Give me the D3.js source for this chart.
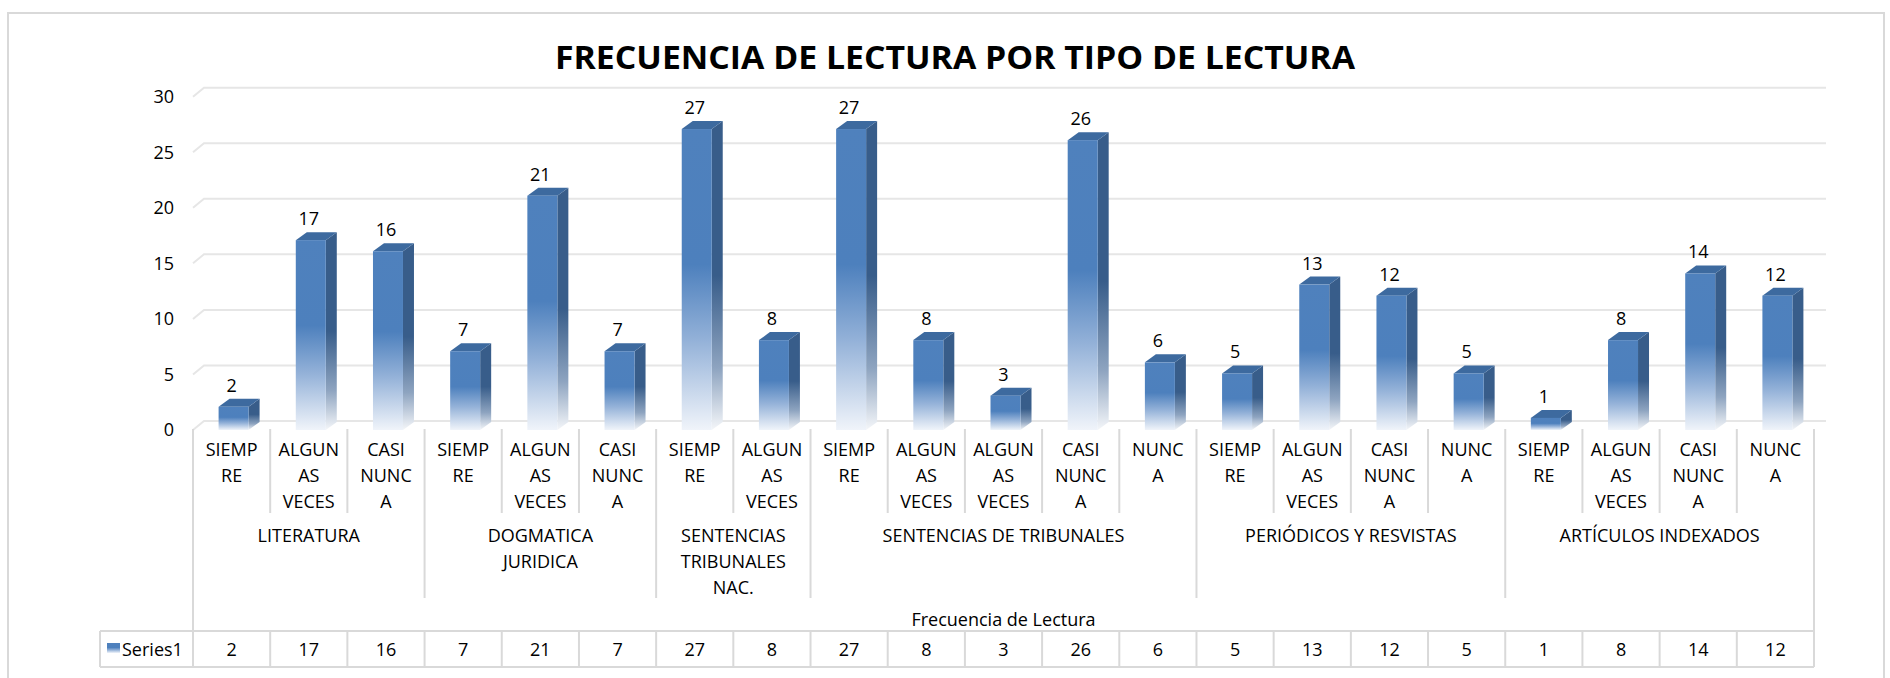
<!DOCTYPE html>
<html>
<head>
<meta charset="utf-8">
<script src="https://cdn.jsdelivr.net/npm/d3@7"></script>
<style>
  body { margin: 0; background: #fff; }
  text { font-family: "Open Sans", "Noto Sans", sans-serif; fill: #000; }
</style>
</head>
<body>
<div id="chart"></div>
<script>
const width = 1890,
  height = 678;

// data
const chartTitle = "FRECUENCIA DE LECTURA POR TIPO DE LECTURA";
const axisTitle = "Frecuencia de Lectura";
const seriesName = "Series1";
const categories = ["SIEMPRE", "ALGUNAS VECES", "CASI NUNCA",
  "SIEMPRE", "ALGUNAS VECES", "CASI NUNCA",
  "SIEMPRE", "ALGUNAS VECES",
  "SIEMPRE", "ALGUNAS VECES", "ALGUNAS VECES", "CASI NUNCA", "NUNCA",
  "SIEMPRE", "ALGUNAS VECES", "CASI NUNCA", "NUNCA",
  "SIEMPRE", "ALGUNAS VECES", "CASI NUNCA", "NUNCA"];
const values = [2, 17, 16, 7, 21, 7, 27, 8, 27, 8, 3, 26, 6, 5, 13, 12, 5, 1, 8, 14, 12];
const groupLabels = [["LITERATURA"], ["DOGMATICA", "JURIDICA"], ["SENTENCIAS", "TRIBUNALES", "NAC."],
  ["SENTENCIAS DE TRIBUNALES"], ["PERIÓDICOS Y RESVISTAS"], ["ARTÍCULOS INDEXADOS"]];
const groupSizes = [3, 3, 2, 5, 4, 4];
const yTicks = [0, 5, 10, 15, 20, 25, 30];

// layout
const plotLeft = 193, plotRight = 1814,
  depthX = 11, depthY = 9;
const tableTop = 631, tableBottom = 667, tableLeft = 100;
const gridCol = "#e6e6e6", lineCol = "#d9d9d9";

const svg = d3.select("#chart").append("svg")
  .attr("width", width)
  .attr("height", height);

const defs = svg.append("defs");
const front = defs.append("linearGradient").attr("id", "frontGrad")
  .attr("x1", 0).attr("y1", 0).attr("x2", 0).attr("y2", 1);
front.append("stop").attr("offset", 0).attr("stop-color", "#4f81bd");
front.append("stop").attr("offset", 0.45).attr("stop-color", "#4d80bd");
front.append("stop").attr("offset", 0.7).attr("stop-color", "#93b1d8");
front.append("stop").attr("offset", 1).attr("stop-color", "#f0f4fa");
const side = defs.append("linearGradient").attr("id", "sideGrad")
  .attr("x1", 0).attr("y1", 0).attr("x2", 0).attr("y2", 1);
side.append("stop").attr("offset", 0).attr("stop-color", "#385d8a");
side.append("stop").attr("offset", 0.5).attr("stop-color", "#385d8a");
side.append("stop").attr("offset", 0.8).attr("stop-color", "#8ea4c0");
side.append("stop").attr("offset", 1).attr("stop-color", "#f4f6f9");

// outer frame
svg.append("rect")
  .attr("x", 8).attr("y", 13)
  .attr("width", 1876).attr("height", 700)
  .attr("fill", "none")
  .attr("stroke", lineCol)
  .attr("stroke-width", 2);

// title
svg.append("text")
  .attr("x", 955).attr("y", 69)
  .attr("text-anchor", "middle")
  .attr("font-size", 32)
  .attr("font-weight", 700)
  .attr("textLength", 800)
  .attr("lengthAdjust", "spacingAndGlyphs")
  .text(chartTitle);

// scales
const x = d3.scaleBand()
  .domain(d3.range(values.length))
  .range([plotLeft, plotRight])
  .padding(0);

const yBack = d3.scaleLinear().domain([0, 30]).range([421, 87.7]);
const yFront = d3.scaleLinear().domain([0, 30]).range([421 + depthY, 87.7 + depthY]);

// gridlines on back wall with slanted floor edge
svg.append("g")
  .selectAll("polyline")
  .data(yTicks)
  .join("polyline")
  .attr("points", d => `${plotLeft},${yFront(d)} ${plotLeft + depthX},${yBack(d)} ${plotRight + 12},${yBack(d)}`)
  .attr("fill", "none")
  .attr("stroke", gridCol)
  .attr("stroke-width", 2);

// y axis
const yAxis = svg.append("g")
  .attr("transform", "translate(174,0)")
  .call(d3.axisLeft(yFront).tickValues(yTicks).tickSize(0).tickPadding(0));
yAxis.select(".domain").remove();
yAxis.selectAll("text")
  .attr("font-size", 18)
  .attr("font-family", "'Open Sans', sans-serif")
  .attr("fill", "#000");

// bars
const bw = 30;
const bars = svg.append("g")
  .selectAll("g")
  .data(values)
  .join("g");

const bx = (d, i) => x(i) + x.bandwidth() / 2 + 2 - bw / 2;
const barTop = d => yBack(d) + 8;
const barBottom = yFront(0);

bars.append("polygon")
  .attr("points", (d, i) => {
    const l = bx(d, i), r = l + bw, t = barTop(d);
    return `${r},${t} ${r + depthX},${t - 8} ${r + depthX},${barBottom - 8} ${r},${barBottom}`;
  })
  .attr("fill", "url(#sideGrad)");

bars.append("polygon")
  .attr("points", (d, i) => {
    const l = bx(d, i), r = l + bw, t = barTop(d);
    return `${l},${t} ${l + depthX},${t - 8} ${r + depthX},${t - 8} ${r},${t}`;
  })
  .attr("fill", "#3d6a9f");

bars.append("rect")
  .attr("x", bx)
  .attr("y", d => barTop(d))
  .attr("width", bw)
  .attr("height", d => barBottom - barTop(d))
  .attr("fill", "url(#frontGrad)");

// value labels
svg.append("g")
  .selectAll("text")
  .data(values)
  .join("text")
  .attr("x", (d, i) => x(i) + x.bandwidth() / 2)
  .attr("y", d => yBack(d) - 7)
  .attr("text-anchor", "middle")
  .attr("font-size", 18)
  .text(d => d);

// category labels, wrapped like the spreadsheet does
const measurer = svg.append("text").attr("font-size", 18).attr("visibility", "hidden");
function textW(s) {
  measurer.text(s);
  return measurer.node().getComputedTextLength();
}
function wrapLabel(label, maxW) {
  const lines = [];
  let cur = "";
  label.split(" ").forEach(word => {
    const trial = cur ? cur + " " + word : word;
    if (textW(trial) <= maxW) { cur = trial; return; }
    if (cur) lines.push(cur);
    cur = "";
    let piece = "";
    for (const ch of word) {
      if (piece && textW(piece + ch) > maxW) { lines.push(piece); piece = ch; }
      else piece += ch;
    }
    cur = piece;
  });
  if (cur) lines.push(cur);
  return lines;
}

const catG = svg.append("g");
categories.forEach((c, i) => {
  const lines = wrapLabel(c, 62);
  const t = catG.append("text")
    .attr("text-anchor", "middle")
    .attr("font-size", 18);
  lines.forEach((ln, k) => {
    t.append("tspan")
      .attr("x", x(i) + x.bandwidth() / 2)
      .attr("y", 456 + k * 26)
      .text(ln);
  });
});
measurer.remove();

// separators
let start = 0;
const groupStarts = groupSizes.map(s => { const v = start; start += s; return v; });
const groupEdges = new Set(groupStarts.concat([values.length]));
const sepG = svg.append("g");
d3.range(values.length + 1).forEach(i => {
  const xx = i === values.length ? plotRight : x(i);
  let y2 = 513;
  if (groupEdges.has(i)) y2 = 598;
  if (i === 0) y2 = tableTop;
  if (i === values.length) y2 = tableBottom;
  sepG.append("line")
    .attr("x1", xx).attr("x2", xx)
    .attr("y1", 429).attr("y2", y2)
    .attr("stroke", lineCol)
    .attr("stroke-width", 2);
});

// group labels
groupLabels.forEach((lines, g) => {
  const s = groupStarts[g], n = groupSizes[g];
  const cx = (x(s) + x(s + n - 1) + x.bandwidth()) / 2;
  const t = svg.append("text")
    .attr("text-anchor", "middle")
    .attr("font-size", 18);
  lines.forEach((ln, k) => {
    t.append("tspan").attr("x", cx).attr("y", 542 + k * 26).text(ln);
  });
});

// axis title
svg.append("text")
  .attr("x", (plotLeft + plotRight) / 2)
  .attr("y", 626)
  .attr("text-anchor", "middle")
  .attr("font-size", 18)
  .text(axisTitle);

// data table
const tbl = svg.append("g");
[tableTop, tableBottom].forEach(yy => {
  tbl.append("line")
    .attr("x1", tableLeft).attr("x2", plotRight)
    .attr("y1", yy).attr("y2", yy)
    .attr("stroke", lineCol).attr("stroke-width", 2);
});
d3.range(values.length + 1).forEach(i => {
  const xx = i === values.length ? plotRight : x(i);
  tbl.append("line")
    .attr("x1", xx).attr("x2", xx)
    .attr("y1", tableTop).attr("y2", tableBottom)
    .attr("stroke", lineCol).attr("stroke-width", 2);
});
tbl.append("line")
  .attr("x1", tableLeft).attr("x2", tableLeft)
  .attr("y1", tableTop).attr("y2", tableBottom)
  .attr("stroke", lineCol).attr("stroke-width", 2);

tbl.append("rect")
  .attr("x", 107).attr("y", 643)
  .attr("width", 13).attr("height", 10)
  .attr("fill", "url(#frontGrad)");
tbl.append("text")
  .attr("x", 122).attr("y", 655.5)
  .attr("font-size", 18)
  .text(seriesName);

tbl.selectAll(".val")
  .data(values)
  .join("text")
  .attr("class", "val")
  .attr("x", (d, i) => x(i) + x.bandwidth() / 2)
  .attr("y", 655.5)
  .attr("text-anchor", "middle")
  .attr("font-size", 18)
  .text(d => d);
</script>
</body>
</html>
